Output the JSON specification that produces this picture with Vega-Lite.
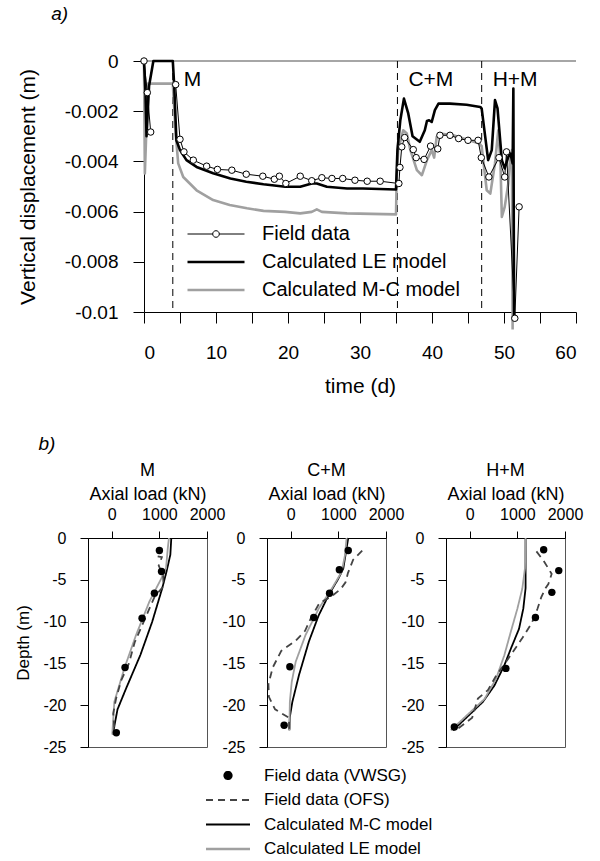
{
  "$schema": "https://vega.github.io/schema/vega-lite/v6.json",
  "background": "white",
  "padding": {"left": 14, "top": 5, "right": 5, "bottom": 5},
  "config": {
    "font": "Liberation Sans",
    "view": {"stroke": null},
    "axis": {"grid": false, "domainColor": "black", "tickColor": "black", "labelColor": "black", "titleColor": "black", "titleFontWeight": "normal", "labelFont": "Liberation Sans", "titleFont": "Liberation Sans"},
    "title": {"fontWeight": "normal", "font": "Liberation Sans", "color": "black"},
    "legend": {"labelFont": "Liberation Sans", "labelColor": "black", "labelLimit": 400}
  },
  "datasets": {
    "phase": [
      {"t": 4, "label": "M"},
      {"t": 35.2, "label": "C+M"},
      {"t": 46.9, "label": "H+M"}
    ],
    "top": [
      {"s": "Calculated M-C model", "t": 0, "v": 0},
      {"s": "Calculated M-C model", "t": 0.12, "v": -0.00448},
      {"s": "Calculated M-C model", "t": 0.55, "v": -0.0009},
      {"s": "Calculated M-C model", "t": 4.0, "v": -0.0009},
      {"s": "Calculated M-C model", "t": 4.4, "v": -0.00289},
      {"s": "Calculated M-C model", "t": 4.75, "v": -0.00408},
      {"s": "Calculated M-C model", "t": 5.45, "v": -0.00462},
      {"s": "Calculated M-C model", "t": 7.3, "v": -0.00515},
      {"s": "Calculated M-C model", "t": 9.6, "v": -0.00554},
      {"s": "Calculated M-C model", "t": 11.9, "v": -0.00574},
      {"s": "Calculated M-C model", "t": 14.3, "v": -0.00587},
      {"s": "Calculated M-C model", "t": 16.6, "v": -0.00597},
      {"s": "Calculated M-C model", "t": 19.6, "v": -0.00601},
      {"s": "Calculated M-C model", "t": 21.7, "v": -0.00607},
      {"s": "Calculated M-C model", "t": 23.3, "v": -0.00601},
      {"s": "Calculated M-C model", "t": 24.0, "v": -0.00591},
      {"s": "Calculated M-C model", "t": 24.7, "v": -0.00601},
      {"s": "Calculated M-C model", "t": 28.2, "v": -0.00607},
      {"s": "Calculated M-C model", "t": 35.0, "v": -0.00611},
      {"s": "Calculated M-C model", "t": 35.1, "v": -0.00462},
      {"s": "Calculated M-C model", "t": 35.3, "v": -0.00355},
      {"s": "Calculated M-C model", "t": 36.0, "v": -0.00276},
      {"s": "Calculated M-C model", "t": 36.5, "v": -0.00289},
      {"s": "Calculated M-C model", "t": 37.0, "v": -0.00355},
      {"s": "Calculated M-C model", "t": 37.9, "v": -0.00435},
      {"s": "Calculated M-C model", "t": 38.6, "v": -0.00455},
      {"s": "Calculated M-C model", "t": 39.3, "v": -0.00395},
      {"s": "Calculated M-C model", "t": 39.96, "v": -0.00355},
      {"s": "Calculated M-C model", "t": 40.3, "v": -0.00385},
      {"s": "Calculated M-C model", "t": 40.65, "v": -0.00302},
      {"s": "Calculated M-C model", "t": 41.1, "v": -0.00289},
      {"s": "Calculated M-C model", "t": 42.95, "v": -0.00296},
      {"s": "Calculated M-C model", "t": 44.8, "v": -0.00313},
      {"s": "Calculated M-C model", "t": 46.6, "v": -0.00329},
      {"s": "Calculated M-C model", "t": 46.9, "v": -0.0034},
      {"s": "Calculated M-C model", "t": 47.6, "v": -0.00515},
      {"s": "Calculated M-C model", "t": 48.1, "v": -0.00528},
      {"s": "Calculated M-C model", "t": 48.75, "v": -0.00408},
      {"s": "Calculated M-C model", "t": 49.2, "v": -0.00276},
      {"s": "Calculated M-C model", "t": 49.5, "v": -0.00395},
      {"s": "Calculated M-C model", "t": 49.7, "v": -0.00621},
      {"s": "Calculated M-C model", "t": 50.1, "v": -0.00581},
      {"s": "Calculated M-C model", "t": 50.6, "v": -0.00488},
      {"s": "Calculated M-C model", "t": 50.8, "v": -0.00408},
      {"s": "Calculated M-C model", "t": 51.1, "v": -0.00355},
      {"s": "Calculated M-C model", "t": 51.2, "v": -0.0107},
      {"s": "Calculated LE model", "t": 0, "v": 0},
      {"s": "Calculated LE model", "t": 0.2, "v": -0.0012},
      {"s": "Calculated LE model", "t": 0.35, "v": -0.003},
      {"s": "Calculated LE model", "t": 0.7, "v": -0.001},
      {"s": "Calculated LE model", "t": 1.3, "v": 0},
      {"s": "Calculated LE model", "t": 4.0, "v": 0},
      {"s": "Calculated LE model", "t": 4.2, "v": -0.001},
      {"s": "Calculated LE model", "t": 4.5, "v": -0.00316},
      {"s": "Calculated LE model", "t": 5.0, "v": -0.00355},
      {"s": "Calculated LE model", "t": 5.9, "v": -0.00395},
      {"s": "Calculated LE model", "t": 7.3, "v": -0.00422},
      {"s": "Calculated LE model", "t": 9.6, "v": -0.00447},
      {"s": "Calculated LE model", "t": 12, "v": -0.00468},
      {"s": "Calculated LE model", "t": 14.2, "v": -0.00481},
      {"s": "Calculated LE model", "t": 16.6, "v": -0.00491},
      {"s": "Calculated LE model", "t": 19.6, "v": -0.00501},
      {"s": "Calculated LE model", "t": 21.7, "v": -0.00501},
      {"s": "Calculated LE model", "t": 23.3, "v": -0.00488},
      {"s": "Calculated LE model", "t": 24, "v": -0.00488},
      {"s": "Calculated LE model", "t": 25.4, "v": -0.00501},
      {"s": "Calculated LE model", "t": 28.2, "v": -0.00508},
      {"s": "Calculated LE model", "t": 30.4, "v": -0.00508},
      {"s": "Calculated LE model", "t": 35.0, "v": -0.00512},
      {"s": "Calculated LE model", "t": 35.2, "v": -0.00355},
      {"s": "Calculated LE model", "t": 35.6, "v": -0.00236},
      {"s": "Calculated LE model", "t": 36.1, "v": -0.0015},
      {"s": "Calculated LE model", "t": 36.7, "v": -0.00209},
      {"s": "Calculated LE model", "t": 37.3, "v": -0.003},
      {"s": "Calculated LE model", "t": 38.3, "v": -0.00322},
      {"s": "Calculated LE model", "t": 39.0, "v": -0.00276},
      {"s": "Calculated LE model", "t": 39.3, "v": -0.00239},
      {"s": "Calculated LE model", "t": 39.6, "v": -0.00236},
      {"s": "Calculated LE model", "t": 39.96, "v": -0.00243},
      {"s": "Calculated LE model", "t": 40.4, "v": -0.00196},
      {"s": "Calculated LE model", "t": 40.9, "v": -0.0017},
      {"s": "Calculated LE model", "t": 42.5, "v": -0.0017},
      {"s": "Calculated LE model", "t": 44.8, "v": -0.00174},
      {"s": "Calculated LE model", "t": 46.7, "v": -0.00183},
      {"s": "Calculated LE model", "t": 46.9, "v": -0.0019},
      {"s": "Calculated LE model", "t": 47.8, "v": -0.00395},
      {"s": "Calculated LE model", "t": 48.3, "v": -0.00355},
      {"s": "Calculated LE model", "t": 48.75, "v": -0.00156},
      {"s": "Calculated LE model", "t": 49.1, "v": -0.00189},
      {"s": "Calculated LE model", "t": 49.7, "v": -0.00395},
      {"s": "Calculated LE model", "t": 50.1, "v": -0.00428},
      {"s": "Calculated LE model", "t": 50.6, "v": -0.00382},
      {"s": "Calculated LE model", "t": 50.9, "v": -0.00369},
      {"s": "Calculated LE model", "t": 51.2, "v": -0.00408},
      {"s": "Calculated LE model", "t": 51.3, "v": -0.0011},
      {"s": "Calculated LE model", "t": 51.4, "v": -0.0103},
      {"s": "Field data", "t": 0, "v": 0},
      {"s": "Field data", "t": 0.46, "v": -0.00126},
      {"s": "Field data", "t": 0.93, "v": -0.00283},
      {"s": "Field data", "t": 2, "v": null},
      {"s": "Field data", "t": 4.4, "v": -0.00094},
      {"s": "Field data", "t": 5.0, "v": -0.00312},
      {"s": "Field data", "t": 5.55, "v": -0.00362},
      {"s": "Field data", "t": 6.85, "v": -0.00395},
      {"s": "Field data", "t": 8.7, "v": -0.00419},
      {"s": "Field data", "t": 10.2, "v": -0.00432},
      {"s": "Field data", "t": 12.2, "v": -0.00435},
      {"s": "Field data", "t": 14.2, "v": -0.00451},
      {"s": "Field data", "t": 16.5, "v": -0.00459},
      {"s": "Field data", "t": 18.1, "v": -0.00471},
      {"s": "Field data", "t": 18.8, "v": -0.00459},
      {"s": "Field data", "t": 19.7, "v": -0.00488},
      {"s": "Field data", "t": 21.7, "v": -0.00459},
      {"s": "Field data", "t": 23.3, "v": -0.00477},
      {"s": "Field data", "t": 24.7, "v": -0.00465},
      {"s": "Field data", "t": 26.1, "v": -0.00468},
      {"s": "Field data", "t": 27.6, "v": -0.00468},
      {"s": "Field data", "t": 29.3, "v": -0.00475},
      {"s": "Field data", "t": 31.0, "v": -0.00479},
      {"s": "Field data", "t": 32.8, "v": -0.00479},
      {"s": "Field data", "t": 35.4, "v": -0.00488},
      {"s": "Field data", "t": 35.55, "v": -0.00424},
      {"s": "Field data", "t": 35.8, "v": -0.00342},
      {"s": "Field data", "t": 36.2, "v": -0.00305},
      {"s": "Field data", "t": 37.4, "v": -0.00353},
      {"s": "Field data", "t": 37.8, "v": -0.00385},
      {"s": "Field data", "t": 38.9, "v": -0.00392},
      {"s": "Field data", "t": 39.8, "v": -0.00339},
      {"s": "Field data", "t": 40.8, "v": -0.0035},
      {"s": "Field data", "t": 41.1, "v": -0.00296},
      {"s": "Field data", "t": 42.5, "v": -0.00296},
      {"s": "Field data", "t": 43.7, "v": -0.00309},
      {"s": "Field data", "t": 45.0, "v": -0.00316},
      {"s": "Field data", "t": 46.4, "v": -0.00316},
      {"s": "Field data", "t": 46.85, "v": -0.00385},
      {"s": "Field data", "t": 47.9, "v": -0.00462},
      {"s": "Field data", "t": 49.3, "v": -0.00385},
      {"s": "Field data", "t": 50.1, "v": -0.00462},
      {"s": "Field data", "t": 50.35, "v": -0.00362},
      {"s": "Field data", "t": 51.5, "v": -0.01025},
      {"s": "Field data", "t": 52.1, "v": -0.00581}
    ],
    "bottom": [
      {"p": "M", "m": "Calculated M-C model", "l": 1250, "d": 0},
      {"p": "M", "m": "Calculated M-C model", "l": 1230, "d": -2},
      {"p": "M", "m": "Calculated M-C model", "l": 1150, "d": -4},
      {"p": "M", "m": "Calculated M-C model", "l": 1060, "d": -6},
      {"p": "M", "m": "Calculated M-C model", "l": 850, "d": -10},
      {"p": "M", "m": "Calculated M-C model", "l": 600, "d": -14},
      {"p": "M", "m": "Calculated M-C model", "l": 300, "d": -18},
      {"p": "M", "m": "Calculated M-C model", "l": 120, "d": -20.5},
      {"p": "M", "m": "Calculated M-C model", "l": 20, "d": -23.5},
      {"p": "M", "m": "Calculated LE model", "l": 1200, "d": 0},
      {"p": "M", "m": "Calculated LE model", "l": 1175, "d": -1.3},
      {"p": "M", "m": "Calculated LE model", "l": 1140, "d": -3.6},
      {"p": "M", "m": "Calculated LE model", "l": 1035, "d": -4.9},
      {"p": "M", "m": "Calculated LE model", "l": 790, "d": -7.6},
      {"p": "M", "m": "Calculated LE model", "l": 510, "d": -11.6},
      {"p": "M", "m": "Calculated LE model", "l": 263, "d": -15.6},
      {"p": "M", "m": "Calculated LE model", "l": 53, "d": -19.6},
      {"p": "M", "m": "Calculated LE model", "l": 10, "d": -23.5},
      {"p": "M", "m": "Field data (OFS)", "l": 964, "d": -2.2},
      {"p": "M", "m": "Field data (OFS)", "l": 1052, "d": -2.3},
      {"p": "M", "m": "Field data (OFS)", "l": 985, "d": -3.3},
      {"p": "M", "m": "Field data (OFS)", "l": 1080, "d": -4.5},
      {"p": "M", "m": "Field data (OFS)", "l": 1085, "d": -5.8},
      {"p": "M", "m": "Field data (OFS)", "l": 900, "d": -7.0},
      {"p": "M", "m": "Field data (OFS)", "l": 640, "d": -10.4},
      {"p": "M", "m": "Field data (OFS)", "l": 480, "d": -12.5},
      {"p": "M", "m": "Field data (OFS)", "l": 360, "d": -15.0},
      {"p": "M", "m": "Field data (OFS)", "l": 200, "d": -17},
      {"p": "M", "m": "Field data (OFS)", "l": 90, "d": -19.2},
      {"p": "M", "m": "Field data (OFS)", "l": 30, "d": -21},
      {"p": "M", "m": "Field data (OFS)", "l": 60, "d": -23.3},
      {"p": "M", "m": "Field data (VWSG)", "l": 1000, "d": -1.5},
      {"p": "M", "m": "Field data (VWSG)", "l": 1045, "d": -4.0},
      {"p": "M", "m": "Field data (VWSG)", "l": 895, "d": -6.6},
      {"p": "M", "m": "Field data (VWSG)", "l": 636, "d": -9.6},
      {"p": "M", "m": "Field data (VWSG)", "l": 278, "d": -15.5},
      {"p": "M", "m": "Field data (VWSG)", "l": 95, "d": -23.3},
      {"p": "C+M", "m": "Calculated M-C model", "l": 1207, "d": 0},
      {"p": "C+M", "m": "Calculated M-C model", "l": 1103, "d": -3.65},
      {"p": "C+M", "m": "Calculated M-C model", "l": 1000, "d": -4.85},
      {"p": "C+M", "m": "Calculated M-C model", "l": 793, "d": -6.85},
      {"p": "C+M", "m": "Calculated M-C model", "l": 586, "d": -9.25},
      {"p": "C+M", "m": "Calculated M-C model", "l": 379, "d": -12.4},
      {"p": "C+M", "m": "Calculated M-C model", "l": 172, "d": -16.4},
      {"p": "C+M", "m": "Calculated M-C model", "l": 33, "d": -19.6},
      {"p": "C+M", "m": "Calculated M-C model", "l": -20, "d": -21.4},
      {"p": "C+M", "m": "Calculated M-C model", "l": -30, "d": -23},
      {"p": "C+M", "m": "Calculated LE model", "l": 1172, "d": 0},
      {"p": "C+M", "m": "Calculated LE model", "l": 1138, "d": -2.06},
      {"p": "C+M", "m": "Calculated LE model", "l": 1069, "d": -4.05},
      {"p": "C+M", "m": "Calculated LE model", "l": 862, "d": -6.05},
      {"p": "C+M", "m": "Calculated LE model", "l": 586, "d": -8.45},
      {"p": "C+M", "m": "Calculated LE model", "l": 310, "d": -11.6},
      {"p": "C+M", "m": "Calculated LE model", "l": 103, "d": -14.8},
      {"p": "C+M", "m": "Calculated LE model", "l": 20, "d": -17.2},
      {"p": "C+M", "m": "Calculated LE model", "l": -20, "d": -19.6},
      {"p": "C+M", "m": "Calculated LE model", "l": -30, "d": -23},
      {"p": "C+M", "m": "Field data (OFS)", "l": 1500, "d": -1.5},
      {"p": "C+M", "m": "Field data (OFS)", "l": 1310, "d": -2.6},
      {"p": "C+M", "m": "Field data (OFS)", "l": 1200, "d": -4.2},
      {"p": "C+M", "m": "Field data (OFS)", "l": 1150, "d": -5.3},
      {"p": "C+M", "m": "Field data (OFS)", "l": 1050, "d": -6.1},
      {"p": "C+M", "m": "Field data (OFS)", "l": 850, "d": -7.0},
      {"p": "C+M", "m": "Field data (OFS)", "l": 600, "d": -7.8},
      {"p": "C+M", "m": "Field data (OFS)", "l": 430, "d": -9.5},
      {"p": "C+M", "m": "Field data (OFS)", "l": 300, "d": -11.1},
      {"p": "C+M", "m": "Field data (OFS)", "l": 100, "d": -12.3},
      {"p": "C+M", "m": "Field data (OFS)", "l": -200, "d": -13.5},
      {"p": "C+M", "m": "Field data (OFS)", "l": -380, "d": -15.5},
      {"p": "C+M", "m": "Field data (OFS)", "l": -470, "d": -17.5},
      {"p": "C+M", "m": "Field data (OFS)", "l": -460, "d": -19},
      {"p": "C+M", "m": "Field data (OFS)", "l": -330, "d": -20.5},
      {"p": "C+M", "m": "Field data (OFS)", "l": -40, "d": -21.5},
      {"p": "C+M", "m": "Field data (OFS)", "l": -30, "d": -23},
      {"p": "C+M", "m": "Field data (VWSG)", "l": 1207, "d": -1.5},
      {"p": "C+M", "m": "Field data (VWSG)", "l": 1020, "d": -3.8},
      {"p": "C+M", "m": "Field data (VWSG)", "l": 814, "d": -6.6},
      {"p": "C+M", "m": "Field data (VWSG)", "l": 482, "d": -9.5},
      {"p": "C+M", "m": "Field data (VWSG)", "l": -20, "d": -15.4},
      {"p": "C+M", "m": "Field data (VWSG)", "l": -140, "d": -22.4},
      {"p": "H+M", "m": "Calculated M-C model", "l": 1172, "d": 0},
      {"p": "H+M", "m": "Calculated M-C model", "l": 1172, "d": -4},
      {"p": "H+M", "m": "Calculated M-C model", "l": 1172, "d": -6},
      {"p": "H+M", "m": "Calculated M-C model", "l": 1124, "d": -8.45},
      {"p": "H+M", "m": "Calculated M-C model", "l": 1035, "d": -10.85},
      {"p": "H+M", "m": "Calculated M-C model", "l": 862, "d": -13.25},
      {"p": "H+M", "m": "Calculated M-C model", "l": 724, "d": -15.25},
      {"p": "H+M", "m": "Calculated M-C model", "l": 517, "d": -17.65},
      {"p": "H+M", "m": "Calculated M-C model", "l": 275, "d": -19.6},
      {"p": "H+M", "m": "Calculated M-C model", "l": -350, "d": -23},
      {"p": "H+M", "m": "Calculated LE model", "l": 1172, "d": 0},
      {"p": "H+M", "m": "Calculated LE model", "l": 1159, "d": -3.65},
      {"p": "H+M", "m": "Calculated LE model", "l": 1103, "d": -6.05},
      {"p": "H+M", "m": "Calculated LE model", "l": 1000, "d": -8.45},
      {"p": "H+M", "m": "Calculated LE model", "l": 862, "d": -11.2},
      {"p": "H+M", "m": "Calculated LE model", "l": 724, "d": -14.05},
      {"p": "H+M", "m": "Calculated LE model", "l": 551, "d": -16.85},
      {"p": "H+M", "m": "Calculated LE model", "l": 310, "d": -19.25},
      {"p": "H+M", "m": "Calculated LE model", "l": -400, "d": -23},
      {"p": "H+M", "m": "Field data (OFS)", "l": 1400, "d": -1.6},
      {"p": "H+M", "m": "Field data (OFS)", "l": 1560, "d": -2.8},
      {"p": "H+M", "m": "Field data (OFS)", "l": 1720, "d": -4.3},
      {"p": "H+M", "m": "Field data (OFS)", "l": 1650, "d": -5.5},
      {"p": "H+M", "m": "Field data (OFS)", "l": 1590, "d": -6.0},
      {"p": "H+M", "m": "Field data (OFS)", "l": 1500, "d": -7.1},
      {"p": "H+M", "m": "Field data (OFS)", "l": 1420, "d": -8.5},
      {"p": "H+M", "m": "Field data (OFS)", "l": 1300, "d": -10.2},
      {"p": "H+M", "m": "Field data (OFS)", "l": 1100, "d": -12},
      {"p": "H+M", "m": "Field data (OFS)", "l": 800, "d": -14.5},
      {"p": "H+M", "m": "Field data (OFS)", "l": 550, "d": -16.5},
      {"p": "H+M", "m": "Field data (OFS)", "l": 380, "d": -18.2},
      {"p": "H+M", "m": "Field data (OFS)", "l": 170, "d": -19.2},
      {"p": "H+M", "m": "Field data (OFS)", "l": 50, "d": -21.5},
      {"p": "H+M", "m": "Field data (OFS)", "l": -250, "d": -22.8},
      {"p": "H+M", "m": "Field data (VWSG)", "l": 1552, "d": -1.4},
      {"p": "H+M", "m": "Field data (VWSG)", "l": 1869, "d": -3.9},
      {"p": "H+M", "m": "Field data (VWSG)", "l": 1724, "d": -6.5},
      {"p": "H+M", "m": "Field data (VWSG)", "l": 1379, "d": -9.5},
      {"p": "H+M", "m": "Field data (VWSG)", "l": 758, "d": -15.6},
      {"p": "H+M", "m": "Field data (VWSG)", "l": -325, "d": -22.6}
    ]
  },
  "spacing": 38,
  "resolve": {"scale": {"color": "independent", "strokeDash": "independent"}, "legend": {"color": "independent", "strokeDash": "independent"}},
  "vconcat": [
    {
      "width": 488,
      "height": 251,
      "title": {"text": "a)", "anchor": "start", "frame": "bounds", "dx": 34, "fontSize": 19, "fontStyle": "italic", "offset": 28},
      "layer": [
        {
          "data": {"values": [{"v": 0}]},
          "mark": {"type": "rule", "color": "#888888", "strokeWidth": 1.5},
          "encoding": {
            "x": {"datum": 0, "type": "quantitative"},
            "x2": {"datum": 60},
            "y": {"field": "v", "type": "quantitative", "scale": {"domain": [-0.01, 0], "nice": false, "zero": false},
              "axis": {"title": "Vertical displacement (m)", "titleFontSize": 21, "titlePadding": 26, "labelFontSize": 19, "tickSize": 11, "labelPadding": 15, "offset": -56,
                "values": [0, -0.001, -0.002, -0.003, -0.004, -0.005, -0.006, -0.007, -0.008, -0.009, -0.01],
                "labelExpr": "datum.value === 0 ? '0' : (round(datum.value * 1000) % 2 === 0 ? '-' + format(abs(datum.value), '.3~f') : '')"}}
          }
        },
        {
          "data": {"name": "phase"},
          "mark": {"type": "rule", "color": "black", "strokeWidth": 1, "strokeDash": [7, 5]},
          "encoding": {
            "x": {"field": "t", "type": "quantitative", "scale": {"domain": [0, 60], "range": [56, 488], "nice": false, "zero": false},
              "axis": {"title": "time (d)", "titleFontSize": 21, "titlePadding": 13, "labelFontSize": 19, "tickSize": 11, "labelPadding": 20,
                "values": [0, 5, 10, 15, 20, 25, 30, 35, 40, 45, 50, 55, 60],
                "labelExpr": "datum.value % 10 === 0 ? '' + datum.value : ''"}}
          }
        },
        {
          "data": {"name": "top"},
          "transform": [{"filter": "datum.s !== 'Field data'"}],
          "mark": {"type": "line", "strokeWidth": 2.6, "strokeJoin": "round"},
          "encoding": {
            "x": {"field": "t", "type": "quantitative"},
            "y": {"field": "v", "type": "quantitative"},
            "color": {"field": "s", "type": "nominal",
              "scale": {"domain": ["Field data", "Calculated LE model", "Calculated M-C model"], "range": ["black", "black", "#a0a0a0"]},
              "legend": {"title": null, "orient": "none", "legendX": 118, "legendY": 163, "symbolSize": 100, "labelFontSize": 20, "labelOffset": 36, "rowPadding": 8, "padding": 0, "symbolOffset": 0, "labelLimit": 400,
                "encode": {"symbols": {"update": {
                  "shape": {"signal": "datum.value === 'Field data' ? 'M-5.7,0H-0.66M0.66,0H5.7M-0.66,0A0.66,0.66 0 1,0 0.66,0A0.66,0.66 0 1,0 -0.66,0Z' : 'M-5.7,0H5.7'"},
                  "fill": {"value": "white"},
                  "strokeWidth": {"signal": "datum.value === 'Field data' ? 1 : 2.6"}
                }}}}
            }
          }
        },
        {
          "data": {"name": "top"},
          "transform": [{"filter": "datum.s === 'Field data'"}],
          "mark": {"type": "line", "color": "black", "strokeWidth": 1, "invalid": "break-paths-show-domains"},
          "encoding": {
            "x": {"field": "t", "type": "quantitative"},
            "y": {"field": "v", "type": "quantitative"}
          }
        },
        {
          "data": {"name": "top"},
          "transform": [{"filter": "datum.s === 'Field data' && datum.v !== null"}],
          "mark": {"type": "point", "filled": true, "fill": "white", "stroke": "black", "strokeWidth": 1, "size": 42, "opacity": 1},
          "encoding": {
            "x": {"field": "t", "type": "quantitative"},
            "y": {"field": "v", "type": "quantitative"}
          }
        },
        {
          "data": {"name": "phase"},
          "mark": {"type": "text", "align": "left", "baseline": "middle", "dx": 11, "fontSize": 21, "color": "black"},
          "encoding": {
            "x": {"field": "t", "type": "quantitative"},
            "y": {"datum": -0.00075, "type": "quantitative"},
            "text": {"field": "label"}
          }
        }
      ]
    },
    {
      "title": {"text": "b)", "anchor": "start", "frame": "bounds", "dx": 24, "fontSize": 19, "fontStyle": "italic", "offset": 8},
      "spacing": 60,
      "bounds": "flush",
      "resolve": {"scale": {"color": "independent", "strokeDash": "independent", "x": "independent", "y": "independent"}, "legend": {"color": "independent", "strokeDash": "independent"}},
      "hconcat": [
        {
          "width": 119, "height": 209,
          "view": {"stroke": "#555555"},
          "title": {"text": "M", "fontSize": 18, "offset": 5},
          "data": {"name": "bottom"},
          "transform": [{"filter": "datum.p === 'M'"}],
          "layer": [
            {
              "transform": [{"filter": "datum.m !== 'Field data (VWSG)'"}],
              "mark": {"type": "line", "strokeWidth": 1.8},
              "encoding": {
                "x": {"field": "l", "type": "quantitative", "scale": {"domain": [-500, 2000], "nice": false, "zero": false},
                  "axis": {"orient": "top", "title": "Axial load (kN)", "titleFontSize": 18, "titlePadding": 3, "labelFontSize": 16, "tickSize": 7, "labelPadding": 9,
                    "values": [0, 500, 1000, 1500, 2000], "labelExpr": "datum.value % 1000 === 0 ? '' + datum.value : ''", "labelFlush": false}},
                "y": {"field": "d", "type": "quantitative", "scale": {"domain": [-25, 0], "nice": false, "zero": false},
                  "axis": {"title": "Depth (m)", "titleFontSize": 17, "titlePadding": 10, "labelFontSize": 16, "tickSize": 8, "labelPadding": 14,
                    "values": [0, -2.5, -5, -7.5, -10, -12.5, -15, -17.5, -20, -22.5, -25],
                    "labelExpr": "datum.value % 5 === 0 ? (datum.value < 0 ? '-' + abs(datum.value) : '0') : ''"}},
                "order": {"field": "d", "sort": "descending"},
                "color": {"field": "m", "type": "nominal",
                  "scale": {"domain": ["Field data (VWSG)", "Field data (OFS)", "Calculated M-C model", "Calculated LE model"], "range": ["black", "#444444", "black", "#a0a0a0"]},
                  "legend": null},
                "strokeDash": {"field": "m", "type": "nominal",
                  "scale": {"domain": ["Field data (VWSG)", "Field data (OFS)", "Calculated M-C model", "Calculated LE model"], "range": [[1, 0], [7, 5], [1, 0], [1, 0]]},
                  "legend": null}
              }
            },
            {
              "transform": [{"filter": "datum.m === 'Field data (VWSG)'"}],
              "mark": {"type": "point", "filled": true, "color": "black", "size": 55, "opacity": 1},
              "encoding": {
                "x": {"field": "l", "type": "quantitative"},
                "y": {"field": "d", "type": "quantitative"}
              }
            }
          ]
        },
        {
          "width": 119, "height": 209,
          "view": {"stroke": "#555555"},
          "title": {"text": "C+M", "fontSize": 18, "offset": 5},
          "data": {"name": "bottom"},
          "transform": [{"filter": "datum.p === 'C+M'"}],
          "layer": [
            {
              "transform": [{"filter": "datum.m !== 'Field data (VWSG)'"}],
              "mark": {"type": "line", "strokeWidth": 1.8},
              "encoding": {
                "x": {"field": "l", "type": "quantitative", "scale": {"domain": [-500, 2000], "nice": false, "zero": false},
                  "axis": {"orient": "top", "title": "Axial load (kN)", "titleFontSize": 18, "titlePadding": 3, "labelFontSize": 16, "tickSize": 7, "labelPadding": 9,
                    "values": [0, 500, 1000, 1500, 2000], "labelExpr": "datum.value % 1000 === 0 ? '' + datum.value : ''", "labelFlush": false}},
                "y": {"field": "d", "type": "quantitative", "scale": {"domain": [-25, 0], "nice": false, "zero": false},
                  "axis": {"title": null, "labelFontSize": 16, "tickSize": 8, "labelPadding": 14,
                    "values": [0, -2.5, -5, -7.5, -10, -12.5, -15, -17.5, -20, -22.5, -25],
                    "labelExpr": "datum.value % 5 === 0 ? (datum.value < 0 ? '-' + abs(datum.value) : '0') : ''"}},
                "order": {"field": "d", "sort": "descending"},
                "color": {"field": "m", "type": "nominal",
                  "scale": {"domain": ["Field data (VWSG)", "Field data (OFS)", "Calculated M-C model", "Calculated LE model"], "range": ["black", "#444444", "black", "#a0a0a0"]},
                  "legend": {"title": null, "orient": "none", "legendX": -47.5, "legendY": 229, "symbolSize": 100, "labelFontSize": 17, "labelOffset": 27.5, "rowPadding": 6.5, "padding": 0, "symbolOffset": 0, "labelLimit": 400,
                    "encode": {"symbols": {"update": {
                      "shape": {"signal": "datum.value === 'Field data (VWSG)' ? 'M-0.74,0A0.74,0.74 0 1,0 0.74,0A0.74,0.74 0 1,0 -0.74,0Z' : 'M-4.4,0H4.4'"},
                      "fill": {"signal": "datum.value === 'Field data (VWSG)' ? 'black' : 'transparent'"},
                      "strokeDash": {"signal": "datum.value === 'Field data (OFS)' ? [7, 5] : [1, 0]"},
                      "strokeWidth": {"signal": "datum.value === 'Calculated LE model' ? 2.4 : 1.8"}
                    }}}}},
                "strokeDash": {"field": "m", "type": "nominal",
                  "scale": {"domain": ["Field data (VWSG)", "Field data (OFS)", "Calculated M-C model", "Calculated LE model"], "range": [[1, 0], [7, 5], [1, 0], [1, 0]]},
                  "legend": null}
              }
            },
            {
              "transform": [{"filter": "datum.m === 'Field data (VWSG)'"}],
              "mark": {"type": "point", "filled": true, "color": "black", "size": 55, "opacity": 1},
              "encoding": {
                "x": {"field": "l", "type": "quantitative"},
                "y": {"field": "d", "type": "quantitative"}
              }
            }
          ]
        },
        {
          "width": 119, "height": 209,
          "view": {"stroke": "#555555"},
          "title": {"text": "H+M", "fontSize": 18, "offset": 5},
          "data": {"name": "bottom"},
          "transform": [{"filter": "datum.p === 'H+M'"}],
          "layer": [
            {
              "transform": [{"filter": "datum.m !== 'Field data (VWSG)'"}],
              "mark": {"type": "line", "strokeWidth": 1.8},
              "encoding": {
                "x": {"field": "l", "type": "quantitative", "scale": {"domain": [-500, 2000], "nice": false, "zero": false},
                  "axis": {"orient": "top", "title": "Axial load (kN)", "titleFontSize": 18, "titlePadding": 3, "labelFontSize": 16, "tickSize": 7, "labelPadding": 9,
                    "values": [0, 500, 1000, 1500, 2000], "labelExpr": "datum.value % 1000 === 0 ? '' + datum.value : ''", "labelFlush": false}},
                "y": {"field": "d", "type": "quantitative", "scale": {"domain": [-25, 0], "nice": false, "zero": false},
                  "axis": {"title": null, "labelFontSize": 16, "tickSize": 8, "labelPadding": 14,
                    "values": [0, -2.5, -5, -7.5, -10, -12.5, -15, -17.5, -20, -22.5, -25],
                    "labelExpr": "datum.value % 5 === 0 ? (datum.value < 0 ? '-' + abs(datum.value) : '0') : ''"}},
                "order": {"field": "d", "sort": "descending"},
                "color": {"field": "m", "type": "nominal",
                  "scale": {"domain": ["Field data (VWSG)", "Field data (OFS)", "Calculated M-C model", "Calculated LE model"], "range": ["black", "#444444", "black", "#a0a0a0"]},
                  "legend": null},
                "strokeDash": {"field": "m", "type": "nominal",
                  "scale": {"domain": ["Field data (VWSG)", "Field data (OFS)", "Calculated M-C model", "Calculated LE model"], "range": [[1, 0], [7, 5], [1, 0], [1, 0]]},
                  "legend": null}
              }
            },
            {
              "transform": [{"filter": "datum.m === 'Field data (VWSG)'"}],
              "mark": {"type": "point", "filled": true, "color": "black", "size": 55, "opacity": 1},
              "encoding": {
                "x": {"field": "l", "type": "quantitative"},
                "y": {"field": "d", "type": "quantitative"}
              }
            }
          ]
        }
      ]
    }
  ]
}
